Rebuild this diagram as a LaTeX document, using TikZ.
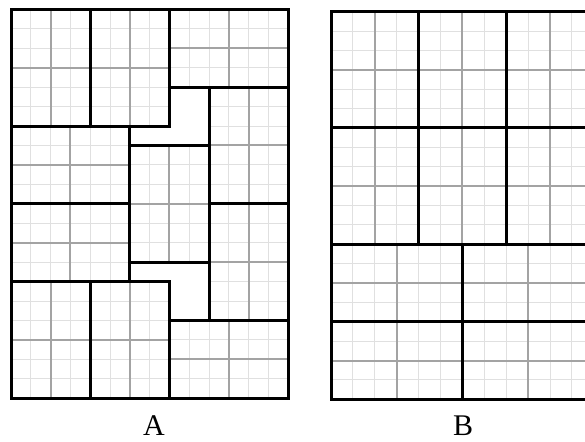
\documentclass[tikz,border=0pt]{standalone}
\usepackage{fontspec}
\setmainfont{Liberation Serif}
\tikzset{
  fineline/.style={draw=black!12, line width=1pt},
  midline/.style={draw=black!36, line width=2pt},
  edgeline/.style={draw=black, line width=3pt, line join=miter},
  panellabel/.style={inner sep=0pt, font=\fontsize{30}{30}\selectfont},
}
\newcommand\drawpieces[1]{%
  \foreach \a/\b/\w/\h in {#1}{%
    \pgfmathtruncatemacro\wm{\w-1}%
    \pgfmathtruncatemacro\hm{\h-1}%
    \foreach \i in {1,...,\wm} \draw[fineline] (\a+\i,\b) -- (\a+\i,\b+\h);
    \foreach \j in {1,...,\hm} \draw[fineline] (\a,\b+\j) -- (\a+\w,\b+\j);
  }%
  \foreach \a/\b/\w/\h in {#1}{%
    \draw[midline] (\a+\w/2,\b) -- (\a+\w/2,\b+\h) (\a,\b+\h/2) -- (\a+\w,\b+\h/2);
  }%
  \foreach \a/\b/\w/\h in {#1}{%
    \draw[edgeline] (\a,\b) rectangle (\a+\w,\b+\h);
  }%
}
\begin{document}
\begin{tikzpicture}[x=1pt,y=-1pt]
  \useasboundingbox (0,0) rectangle (585,441);
  \clip (0,0) rectangle (585,441);
  \fill[white] (0,0) rectangle (585,441);
  % Panel A
  \begin{scope}[shift={(11pt,-9.3pt)}, x=19.8pt, y=-19.45pt]
    \drawpieces{0/0/4/6, 4/0/4/6, 8/0/6/4, 0/6/6/4, 10/4/4/6, 6/7/4/6, 0/10/6/4, 10/10/4/6, 0/14/4/6, 4/14/4/6, 8/16/6/4}
  \end{scope}
  % Panel B
  \begin{scope}[shift={(331pt,-11.7pt)}, x=21.9pt, y=-19.38pt]
    \drawpieces{0/0/4/6, 4/0/4/6, 8/0/4/6, 0/6/4/6, 4/6/4/6, 8/6/4/6, 0/12/6/4, 6/12/6/4, 0/16/6/4, 6/16/6/4}
  \end{scope}
  \node[panellabel] (labA) at (154,426) {A};
  \node[panellabel] (labB) at (463,426) {B};
\end{tikzpicture}
\end{document}
